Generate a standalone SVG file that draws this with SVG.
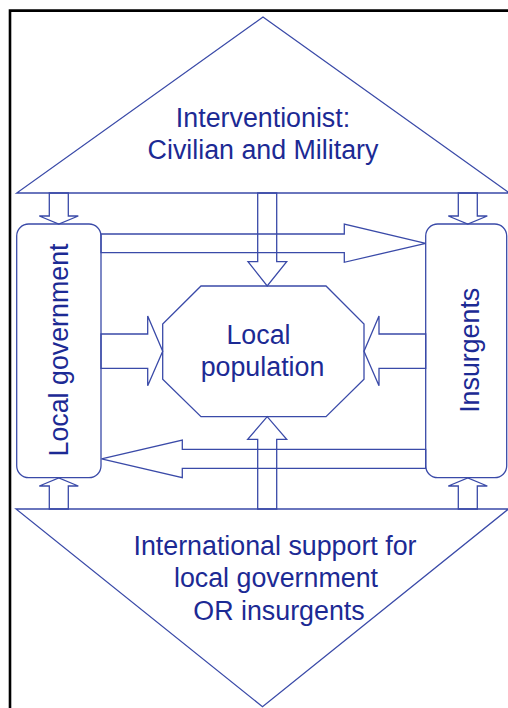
<svg xmlns="http://www.w3.org/2000/svg" width="508" height="708" viewBox="0 0 508 708">
  <style>
    .shape { fill: #ffffff; stroke: #3a4aa8; stroke-width: 1.3; stroke-linejoin: miter; }
    .arrow { fill: none; stroke: #3a4aa8; stroke-width: 1.3; stroke-linejoin: miter; }
    .label { font-family: "Liberation Sans", Arial, sans-serif; font-size: 26.8px; fill: #1c2a94; text-anchor: middle; }
  </style>

  <rect x="0" y="0" width="508" height="708" fill="#ffffff"/>

  <!-- page frame -->
  <path d="M10,708 V10.6 H508" fill="none" stroke="#000000" stroke-width="2.6"/>

  <g id="interventionist">
    <polygon class="shape" points="16.7,193 509.5,193 263,17"/>
    <text class="label" x="263" y="126.7">Interventionist:</text>
    <text class="label" x="263" y="159">Civilian and Military</text>
  </g>

  <g id="international-support">
    <polygon class="shape" points="16,509 508.5,509 262.5,706.7"/>
    <text class="label" x="275" y="555">International support for</text>
    <text class="label" x="276" y="587">local government</text>
    <text class="label" x="279" y="620">OR insurgents</text>
  </g>

  <g id="local-government">
    <rect class="shape" x="16.7" y="224" width="84.3" height="253.7" rx="12" ry="12"/>
    <text class="label" transform="translate(68,350) rotate(-90)">Local government</text>
  </g>

  <g id="insurgents">
    <rect class="shape" x="425.7" y="224" width="81" height="253.7" rx="12" ry="12"/>
    <text class="label" transform="translate(478.5,350.3) rotate(-90)">Insurgents</text>
  </g>

  <g id="local-population">
    <polygon class="shape" points="201,286 326,286 364,324 364,379.3 326,416.7 201,416.7 162.7,379.3 162.7,324"/>
    <text class="label" x="258.5" y="344">Local</text>
    <text class="label" x="262.5" y="376">population</text>
  </g>

  <g id="connectors">
    <!-- interventionist down to local government -->
    <polygon class="arrow" points="49.3,193 68.3,193 68.3,216 78.3,216 58.8,224 39.3,216 49.3,216"/>
    <!-- interventionist down to local population -->
    <polygon class="arrow" points="257.7,193 276.7,193 276.7,261.7 286.7,261.7 267.2,286 248,261.7 257.7,261.7"/>
    <!-- interventionist down to insurgents -->
    <polygon class="arrow" points="458.3,193 477.3,193 477.3,216 487.3,216 467.8,224 448.3,216 458.3,216"/>

    <!-- local government to insurgents -->
    <polygon class="arrow" points="101,234 344.3,234 344.3,224 425.7,243.3 344.3,262.3 344.3,252.7 101,252.7"/>

    <!-- local government to local population -->
    <polygon class="arrow" points="101,334 147.7,334 147.7,316 162.7,351.2 147.7,385.7 147.7,368.3 101,368.3"/>
    <!-- insurgents to local population -->
    <polygon class="arrow" points="425.7,334 379,334 379,316 364,351.2 379,385.7 379,368.3 425.7,368.3"/>

    <!-- insurgents to local government -->
    <polygon class="arrow" points="425.7,449.3 182.3,449.3 182.3,440 101.5,458.8 182.3,477.7 182.3,468.3 425.7,468.3"/>

    <!-- international support up to local population -->
    <polygon class="arrow" points="257.7,509 276.7,509 276.7,439.3 286.7,439.3 267.2,416.7 247.7,439.3 257.7,439.3"/>
    <!-- international support up to local government -->
    <polygon class="arrow" points="49.3,509 68.3,509 68.3,486 78.3,486 58.8,478 39.3,486 49.3,486"/>
    <!-- international support up to insurgents -->
    <polygon class="arrow" points="458.3,509 477.3,509 477.3,486 487.3,486 467.8,478 448.3,486 458.3,486"/>
  </g>
</svg>
